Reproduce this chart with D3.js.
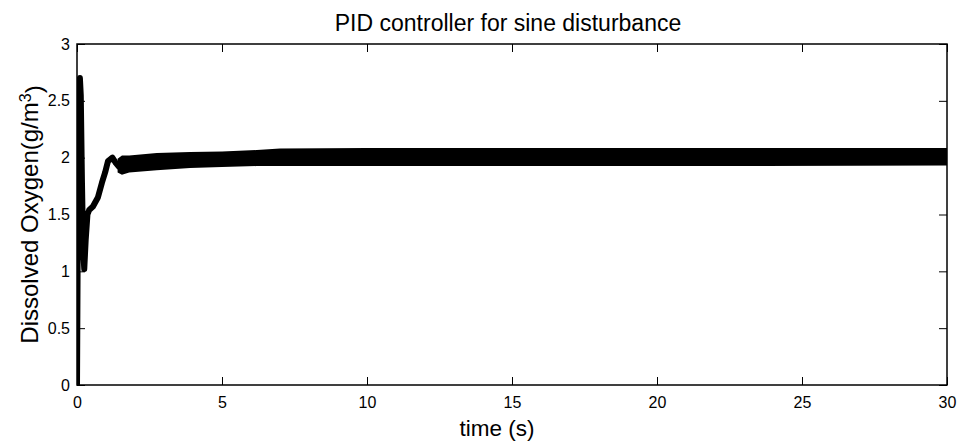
<!DOCTYPE html>
<html>
<head>
<meta charset="utf-8">
<script src="https://cdn.jsdelivr.net/npm/d3@7"></script>
<style>
  body { margin: 0; background: #fff; }
  text { font-family: "Liberation Sans", Arial, sans-serif; fill: #000; }
  .axis path { display: none; }
  .axis line { stroke: #000; stroke-width: 1; }
  .axis text { font-size: 16px; }
</style>
</head>
<body>
<div id="chart"></div>
<script>

      // transient part of the response
      var transTime  = [0, 0.02, 0.05, 0.08, 0.1, 0.13, 0.17, 0.21, 0.25, 0.3, 0.36, 0.42, 0.55, 0.72, 0.86, 0.97, 1.07, 1.22, 1.32, 1.45, 1.65];
      var transValue = [0, 1.0, 1.9, 2.55, 2.7, 2.55, 1.8, 1.2, 1.02, 1.28, 1.5, 1.54, 1.57, 1.65, 1.78, 1.87, 1.97, 2.0, 1.96, 1.92, 1.93];

      // envelope of the fast sine ripple after the transient
      var bandTime  = [1.4, 1.55, 1.8, 2.75, 3.9, 5.0, 6.2, 7.0, 10, 20, 30];
      var bandUpper = [1.99, 2.02, 2.02, 2.04, 2.05, 2.055, 2.067, 2.08, 2.084, 2.084, 2.084];
      var bandLower = [1.87, 1.85, 1.87, 1.89, 1.91, 1.917, 1.926, 1.926, 1.926, 1.926, 1.93];

      var xTicks = [0, 5, 10, 15, 20, 25, 30];
      var yTicks = [0, 0.5, 1, 1.5, 2, 2.5, 3];

      var margin = {top: 44, right: 13, bottom: 59, left: 77};

      var width = 960 - margin.left - margin.right,
          height = 444 - margin.top - margin.bottom;

      var svg = d3.select("#chart").append("svg")
                .attr("width", 960)
                .attr("height", 444);

      var canvas = svg.append("g")
                .attr("transform", "translate(" + margin.left + "," + margin.top + ")");

      ////// Define Scales /////////////////
      var xScale = d3.scaleLinear()
          .domain([0, 30])
          .range([0, width]);
      var yScale = d3.scaleLinear()
          .domain([0, 3])
          .range([height, 0]);

      // clip so the thick line stays in the box
      svg.append("defs").append("clipPath")
          .attr("id", "clip")
          .append("rect")
          .attr("width", width)
          .attr("height", height);

      var plot = canvas.append("g").attr("clip-path", "url(#clip)");

      // ripple band
      var bandData = bandTime.map(function(t, i) {
          return {x: t, lo: bandLower[i], hi: bandUpper[i]};
      });
      var area = d3.area()
          .x(function(d) { return xScale(d.x); })
          .y0(function(d) { return yScale(d.lo); })
          .y1(function(d) { return yScale(d.hi); });

      plot.append("path")
          .datum(bandData)
          .attr("d", area)
          .attr("fill", "#000");

      // transient line
      var transData = transTime.map(function(t, i) {
          return {x: t, y: transValue[i]};
      });
      var line = d3.line()
          .x(function(d) { return xScale(d.x); })
          .y(function(d) { return yScale(d.y); });

      plot.append("path")
          .datum(transData)
          .attr("d", line)
          .attr("fill", "none")
          .attr("stroke", "#000")
          .attr("stroke-width", 6)
          .attr("stroke-linejoin", "round")
          .attr("stroke-linecap", "round");

      /////// Axes, ticks pointing inward //////////////////
      var fmt = function(d) { return String(d); };

      canvas.append("g")
          .attr("class", "x axis")
          .attr("transform", "translate(0," + height + ")")
          .call(d3.axisBottom(xScale).tickValues(xTicks).tickFormat(fmt).tickSizeInner(-8).tickSizeOuter(0).tickPadding(12));

      canvas.append("g")
          .attr("class", "x axis")
          .call(d3.axisTop(xScale).tickValues(xTicks).tickSizeInner(-8).tickSizeOuter(0).tickFormat(""));

      canvas.append("g")
          .attr("class", "y axis")
          .call(d3.axisLeft(yScale).tickValues(yTicks).tickFormat(fmt).tickSizeInner(-8).tickSizeOuter(0).tickPadding(7));

      canvas.append("g")
          .attr("class", "y axis")
          .attr("transform", "translate(" + width + ",0)")
          .call(d3.axisRight(yScale).tickValues(yTicks).tickSizeInner(-8).tickSizeOuter(0).tickFormat(""));

      // box
      canvas.append("rect")
          .attr("width", width)
          .attr("height", height)
          .attr("fill", "none")
          .attr("stroke", "#000")
          .attr("stroke-width", 1.5);

      // title and labels
      svg.append("text")
          .attr("x", 508)
          .attr("y", 31)
          .attr("text-anchor", "middle")
          .style("font-size", "23px")
          .text("PID controller for sine disturbance");

      svg.append("text")
          .attr("x", 497)
          .attr("y", 436)
          .attr("text-anchor", "middle")
          .style("font-size", "22.5px")
          .text("time (s)");

      var yLabel = svg.append("text")
          .attr("transform", "translate(38," + (margin.top + height / 2) + ") rotate(-90)")
          .attr("text-anchor", "middle")
          .style("font-size", "24px");
      yLabel.append("tspan").text("Dissolved Oxygen(g/m");
      yLabel.append("tspan").attr("dy", "-0.45em").style("font-size", "16px").text("3");
      yLabel.append("tspan").attr("dy", "0.45em").text(")");

</script>
</body>
</html>
